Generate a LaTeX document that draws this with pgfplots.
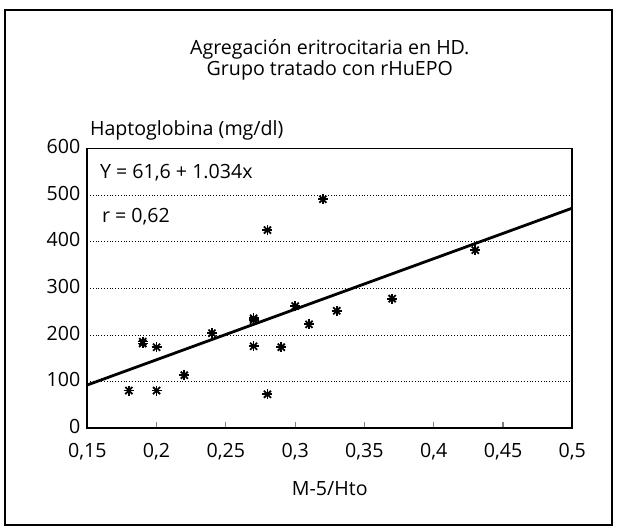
\documentclass[border=0pt]{standalone}
\usepackage{fontspec}
\setmainfont{Open Sans}
\usepackage{pgfplots}
\pgfplotsset{compat=1.18}

\pgfplotstableread{
x y
0.18 81
0.19 182
0.19 186
0.20 174
0.20 81
0.22 114
0.24 204
0.27 176
0.27 232
0.27 236
0.28 73
0.28 425
0.29 174
0.30 262
0.31 223
0.32 491
0.33 252
0.37 278
0.43 382
}\datos

\begin{document}
\begin{tikzpicture}[x=1pt,y=1pt,font=\fontsize{9.8}{9.8}\selectfont]
% picture and frame, in pt relative to the axis origin
\path[use as bounding box] (-43.65,-50.3) rectangle (265.35,214.2);
\draw[line width=0.9pt] (-41.15,-48.3) rectangle (262.35,209.2);
\begin{axis}[
  at={(0,0)}, anchor=origin,
  scale only axis,
  width=242.5pt, height=140pt,
  xmin=0.15, xmax=0.5,
  ymin=0, ymax=600,
  xtick={0.15,0.2,0.25,0.3,0.35,0.4,0.45,0.5},
  xticklabels={{0,15},{0,2},{0,25},{0,3},{0,35},{0,4},{0,45},{0,5}},
  ytick={0,100,200,300,400,500,600},
  /pgf/number format/assume math mode=true,
  tick align=inside,
  xtick pos=bottom,
  ytick style={draw=none},
  major tick length=3pt,
  xtick style={line width=0.6pt},
  ymajorgrids,
  grid style={densely dotted, line width=0.4pt, black},
  axis line style={line width=0.9pt},
  xticklabel style={yshift=-4pt},
  yticklabel style={yshift=1pt},
  xlabel={M-5/Hto},
  xlabel style={yshift=-4pt},
  clip=false,
]
\addplot[black, line width=1.4pt] coordinates {(0.15,93) (0.5,472)};
\addplot[only marks, mark=+, mark size=2.5pt, mark options={line width=0.9pt}] table[x=x,y=y] {\datos};
\addplot[only marks, mark=x, mark size=2.5pt, mark options={line width=0.9pt}] table[x=x,y=y] {\datos};
\end{axis}
\node[anchor=west] at (-2.15,149.2) {Haptoglobina (mg/dl)};
\node[anchor=west] at (2.85,127.7) {Y = 61,6 + 1.034x};
\node[anchor=west] at (3.85,105.8) {r = 0,62};
\node[align=center, font=\fontsize{9.8}{8.8}\selectfont] at (121.25,184.3) {Agregación eritrocitaria en HD.\\Grupo tratado con rHuEPO};
\end{tikzpicture}
\end{document}
